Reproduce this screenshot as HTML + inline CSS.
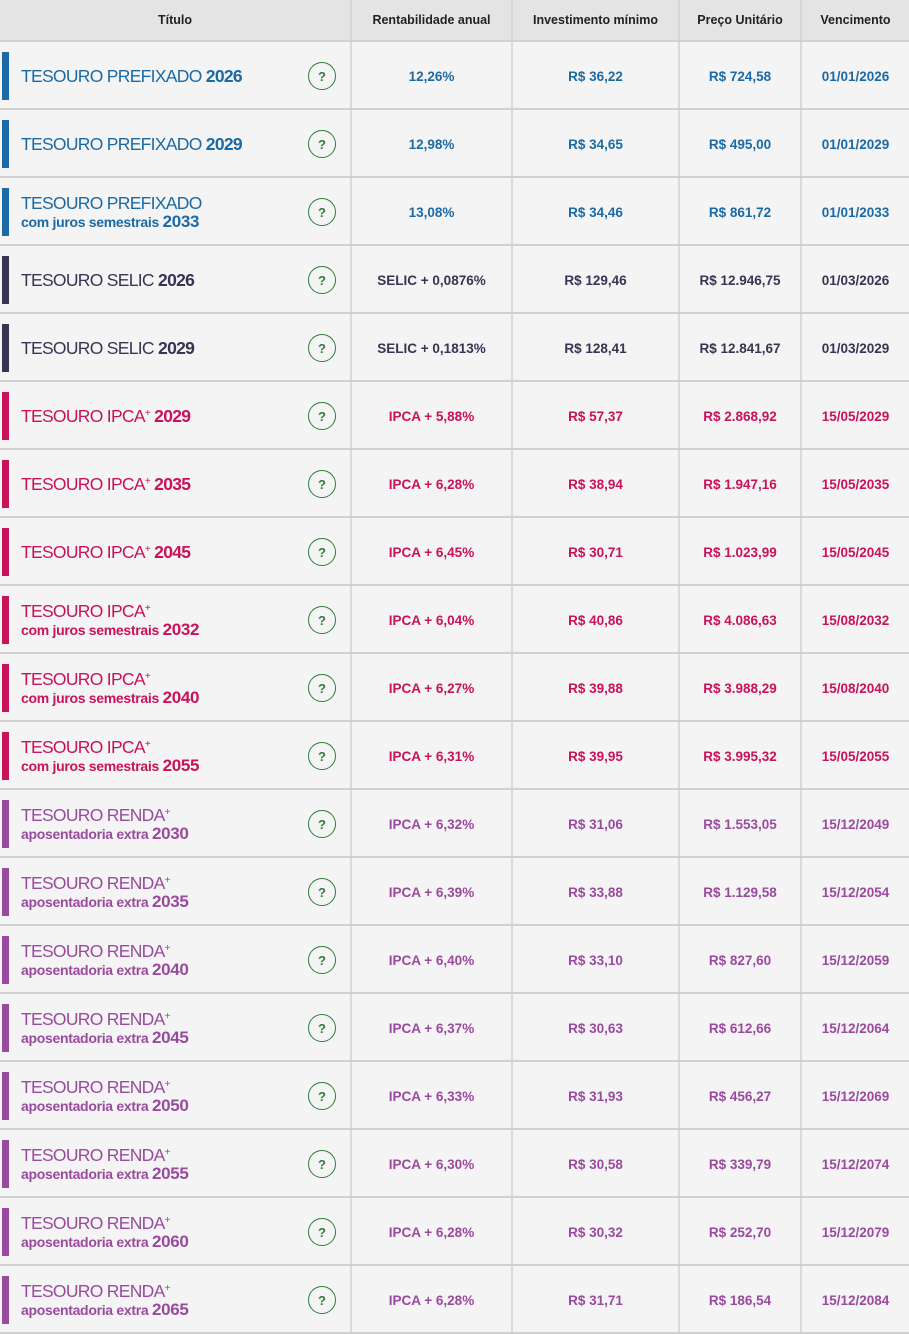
<!DOCTYPE html>
<html><head><meta charset="utf-8"><style>
*{margin:0;padding:0;box-sizing:border-box}
body{width:909px;height:1333px;background:#f4f4f4;font-family:"Liberation Sans",sans-serif;position:relative;overflow:hidden}
.h{position:absolute;top:0;left:0;width:909px;height:42px;background:#e4e4e4;border-bottom:2px solid #d2d2d2;display:flex}
.h div{font-size:12.5px;font-weight:bold;color:#222;display:flex;align-items:center;justify-content:center;border-right:2px solid #d6d6d6;height:40px}
.r{position:relative;height:68px;display:flex;border-bottom:2px solid #d0d0d0;background:#f4f4f4}
.c{display:flex;align-items:center;justify-content:center;border-right:2px solid #dadada;font-size:13.5px;font-weight:bold;height:66px;padding-top:3px}
.c1{width:352px;justify-content:flex-start;position:relative;padding-left:21px;font-weight:normal}
.c2{width:161px}.c3{width:167px}.c4{width:122px}.c5{width:107px;border-right:none}
.bar{position:absolute;left:2px;top:10px;width:7px;height:48px}
.q{position:absolute;left:308px;top:20px;width:28px;height:28px;border:1.5px solid #2f7d3a;border-radius:50%;color:#2f7d3a;font-size:13px;font-weight:bold;display:flex;align-items:center;justify-content:center}
.t{font-size:17.5px;line-height:19px;letter-spacing:-0.7px}
.t b{font-weight:bold}
.s{font-size:14px;font-weight:bold;line-height:17px;letter-spacing:-0.3px}
.s b{font-size:17px}
sup{font-size:10px;vertical-align:6px;line-height:0}
.B{color:#1b6aa5}.B .bar{background:#1b6aa5}
.S{color:#3a3352}.S .bar{background:#3a3352}
.P{color:#c8125a}.P .bar{background:#c8125a}
.R{color:#9a4a9e}.R .bar{background:#9a4a9e}
</style></head><body>
<div class="h"><div style="width:352px">Título</div><div style="width:161px">Rentabilidade anual</div><div style="width:167px">Investimento mínimo</div><div style="width:122px">Preço Unitário</div><div style="width:107px;border:none">Vencimento</div></div>
<div style="position:absolute;top:42px;left:0;width:909px">
<div class="r B"><div class="c c1"><div class="bar"></div><div class="t">TESOURO PREFIXADO <b>2026</b></div><div class="q">?</div></div><div class="c c2">12,26%</div><div class="c c3">R$ 36,22</div><div class="c c4">R$ 724,58</div><div class="c c5">01/01/2026</div></div>
<div class="r B"><div class="c c1"><div class="bar"></div><div class="t">TESOURO PREFIXADO <b>2029</b></div><div class="q">?</div></div><div class="c c2">12,98%</div><div class="c c3">R$ 34,65</div><div class="c c4">R$ 495,00</div><div class="c c5">01/01/2029</div></div>
<div class="r B"><div class="c c1"><div class="bar"></div><div><div class="t">TESOURO PREFIXADO</div><div class="s">com juros semestrais <b>2033</b></div></div><div class="q">?</div></div><div class="c c2">13,08%</div><div class="c c3">R$ 34,46</div><div class="c c4">R$ 861,72</div><div class="c c5">01/01/2033</div></div>
<div class="r S"><div class="c c1"><div class="bar"></div><div class="t">TESOURO SELIC <b>2026</b></div><div class="q">?</div></div><div class="c c2">SELIC + 0,0876%</div><div class="c c3">R$ 129,46</div><div class="c c4">R$ 12.946,75</div><div class="c c5">01/03/2026</div></div>
<div class="r S"><div class="c c1"><div class="bar"></div><div class="t">TESOURO SELIC <b>2029</b></div><div class="q">?</div></div><div class="c c2">SELIC + 0,1813%</div><div class="c c3">R$ 128,41</div><div class="c c4">R$ 12.841,67</div><div class="c c5">01/03/2029</div></div>
<div class="r P"><div class="c c1"><div class="bar"></div><div class="t">TESOURO IPCA<sup>+</sup> <b>2029</b></div><div class="q">?</div></div><div class="c c2">IPCA + 5,88%</div><div class="c c3">R$ 57,37</div><div class="c c4">R$ 2.868,92</div><div class="c c5">15/05/2029</div></div>
<div class="r P"><div class="c c1"><div class="bar"></div><div class="t">TESOURO IPCA<sup>+</sup> <b>2035</b></div><div class="q">?</div></div><div class="c c2">IPCA + 6,28%</div><div class="c c3">R$ 38,94</div><div class="c c4">R$ 1.947,16</div><div class="c c5">15/05/2035</div></div>
<div class="r P"><div class="c c1"><div class="bar"></div><div class="t">TESOURO IPCA<sup>+</sup> <b>2045</b></div><div class="q">?</div></div><div class="c c2">IPCA + 6,45%</div><div class="c c3">R$ 30,71</div><div class="c c4">R$ 1.023,99</div><div class="c c5">15/05/2045</div></div>
<div class="r P"><div class="c c1"><div class="bar"></div><div><div class="t">TESOURO IPCA<sup>+</sup></div><div class="s">com juros semestrais <b>2032</b></div></div><div class="q">?</div></div><div class="c c2">IPCA + 6,04%</div><div class="c c3">R$ 40,86</div><div class="c c4">R$ 4.086,63</div><div class="c c5">15/08/2032</div></div>
<div class="r P"><div class="c c1"><div class="bar"></div><div><div class="t">TESOURO IPCA<sup>+</sup></div><div class="s">com juros semestrais <b>2040</b></div></div><div class="q">?</div></div><div class="c c2">IPCA + 6,27%</div><div class="c c3">R$ 39,88</div><div class="c c4">R$ 3.988,29</div><div class="c c5">15/08/2040</div></div>
<div class="r P"><div class="c c1"><div class="bar"></div><div><div class="t">TESOURO IPCA<sup>+</sup></div><div class="s">com juros semestrais <b>2055</b></div></div><div class="q">?</div></div><div class="c c2">IPCA + 6,31%</div><div class="c c3">R$ 39,95</div><div class="c c4">R$ 3.995,32</div><div class="c c5">15/05/2055</div></div>
<div class="r R"><div class="c c1"><div class="bar"></div><div><div class="t">TESOURO RENDA<sup>+</sup></div><div class="s">aposentadoria extra <b>2030</b></div></div><div class="q">?</div></div><div class="c c2">IPCA + 6,32%</div><div class="c c3">R$ 31,06</div><div class="c c4">R$ 1.553,05</div><div class="c c5">15/12/2049</div></div>
<div class="r R"><div class="c c1"><div class="bar"></div><div><div class="t">TESOURO RENDA<sup>+</sup></div><div class="s">aposentadoria extra <b>2035</b></div></div><div class="q">?</div></div><div class="c c2">IPCA + 6,39%</div><div class="c c3">R$ 33,88</div><div class="c c4">R$ 1.129,58</div><div class="c c5">15/12/2054</div></div>
<div class="r R"><div class="c c1"><div class="bar"></div><div><div class="t">TESOURO RENDA<sup>+</sup></div><div class="s">aposentadoria extra <b>2040</b></div></div><div class="q">?</div></div><div class="c c2">IPCA + 6,40%</div><div class="c c3">R$ 33,10</div><div class="c c4">R$ 827,60</div><div class="c c5">15/12/2059</div></div>
<div class="r R"><div class="c c1"><div class="bar"></div><div><div class="t">TESOURO RENDA<sup>+</sup></div><div class="s">aposentadoria extra <b>2045</b></div></div><div class="q">?</div></div><div class="c c2">IPCA + 6,37%</div><div class="c c3">R$ 30,63</div><div class="c c4">R$ 612,66</div><div class="c c5">15/12/2064</div></div>
<div class="r R"><div class="c c1"><div class="bar"></div><div><div class="t">TESOURO RENDA<sup>+</sup></div><div class="s">aposentadoria extra <b>2050</b></div></div><div class="q">?</div></div><div class="c c2">IPCA + 6,33%</div><div class="c c3">R$ 31,93</div><div class="c c4">R$ 456,27</div><div class="c c5">15/12/2069</div></div>
<div class="r R"><div class="c c1"><div class="bar"></div><div><div class="t">TESOURO RENDA<sup>+</sup></div><div class="s">aposentadoria extra <b>2055</b></div></div><div class="q">?</div></div><div class="c c2">IPCA + 6,30%</div><div class="c c3">R$ 30,58</div><div class="c c4">R$ 339,79</div><div class="c c5">15/12/2074</div></div>
<div class="r R"><div class="c c1"><div class="bar"></div><div><div class="t">TESOURO RENDA<sup>+</sup></div><div class="s">aposentadoria extra <b>2060</b></div></div><div class="q">?</div></div><div class="c c2">IPCA + 6,28%</div><div class="c c3">R$ 30,32</div><div class="c c4">R$ 252,70</div><div class="c c5">15/12/2079</div></div>
<div class="r R"><div class="c c1"><div class="bar"></div><div><div class="t">TESOURO RENDA<sup>+</sup></div><div class="s">aposentadoria extra <b>2065</b></div></div><div class="q">?</div></div><div class="c c2">IPCA + 6,28%</div><div class="c c3">R$ 31,71</div><div class="c c4">R$ 186,54</div><div class="c c5">15/12/2084</div></div>
</div>
</body></html>
